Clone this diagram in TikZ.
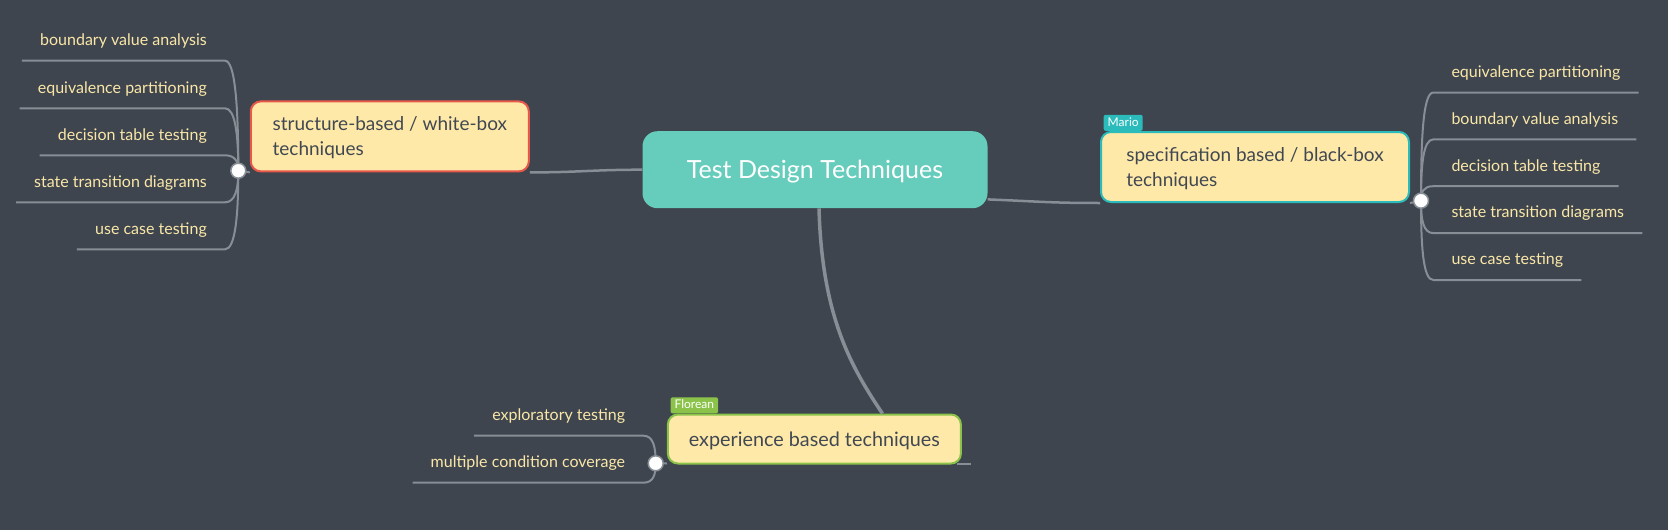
\documentclass[tikz,border=0pt]{standalone}
\usepackage{fontspec}
\setmainfont{Lato}
\definecolor{bgslate}{RGB}{62,69,78}
\definecolor{linegray}{RGB}{135,142,150}
\definecolor{leafyellow}{RGB}{250,231,168}
\definecolor{nodeyellow}{RGB}{255,233,168}
\definecolor{textslate}{RGB}{64,72,82}
\definecolor{rootteal}{RGB}{102,204,187}
\definecolor{whitered}{RGB}{232,88,74}
\definecolor{specteal}{RGB}{44,187,187}
\definecolor{expgreen}{RGB}{139,195,74}

\begin{document}
\begin{tikzpicture}[x=1pt, y=-1pt,
  branch/.style={draw=linegray, line width=2pt},
  leaf/.style={text=leafyellow, font=\fontsize{16}{19}\selectfont, inner xsep=18pt, inner ysep=11pt, text height=11pt, text depth=4pt},
  topic/.style={fill=nodeyellow, text=textslate, rounded corners=10pt, line width=2pt, align=left, text depth=0pt, font=\fontsize{19}{25}\selectfont},
  tag/.style={text=white, font=\fontsize{12}{14}\selectfont, rounded corners=2pt, inner xsep=4pt, inner ysep=2.5pt, text height=9pt, text depth=2pt, anchor=south west},
  hub/.style={circle, fill=white, draw=linegray, line width=1.5pt, minimum size=15pt, inner sep=0pt}]
  % background and picture size
  \fill[bgslate] (0,0) rectangle (1668,530);
  \useasboundingbox (0,0) rectangle (1668,530);

  % hubs where the leaves meet
  \coordinate (hubL) at (238.3,170.7);
  \coordinate (hubR) at (1421,200.7);
  \coordinate (hubB) at (655.7,463.3);

  % central topic
  \node[fill=rootteal, text=white, rounded corners=15pt, minimum width=345pt, minimum height=77pt, text depth=0pt,
    font=\fontsize{25}{30}\selectfont] (root) at (815,169.7) {Test Design Techniques};

  % main topics
  \node[topic, draw=whitered, minimum width=278pt, minimum height=70pt] (white) at (389.8,136.4)
    {structure-based / white-box\\techniques};
  \node[topic, draw=specteal, minimum width=308pt, minimum height=70pt] (spec) at (1255,167)
    {specification based / black-box\\techniques};
  \node[topic, draw=expgreen, minimum width=293pt, minimum height=49pt, font=\fontsize{19.8}{25}\selectfont] (exp) at (814.4,439)
    {experience based techniques};

  % labels on top of the topics
  \node[tag, fill=specteal] (mario) at ([xshift=3.5pt]spec.north west) {Mario};
  \node[tag, fill=expgreen] (florean) at ([xshift=3.5pt]exp.north west) {Florean};

  % connectors from the central topic
  \draw[branch, line width=2.5pt] (root.west) .. controls +(-50,0) and +(50,0) .. (white.south east);
  \draw[branch, line width=2.5pt] ([yshift=9pt]root.south east) .. controls +(50,2) and +(-50,0) .. (spec.south west);
  \draw[branch, line width=3.5pt] ([xshift=4pt]root.south) .. controls +(3,110) and +(-30,-45) .. ([xshift=68pt]exp.north);

  % underlines of the topics
  \draw[branch] (hubL) -- (white.south west);
  \draw[branch] (hubR) -- (spec.south east);
  \draw[branch] (hubB) -- ([yshift=1pt]exp.south west);
  \coordinate (expstub) at ([xshift=9pt, yshift=1pt]exp.south east);
  \draw[branch] ([xshift=-5pt, yshift=1pt]exp.south east) -- (expstub);

  % leaves of the white-box topic
  \foreach \y/\txt [count=\i] in {60.7/boundary value analysis, 108.3/equivalence partitioning,
      155.3/decision table testing, 202.3/state transition diagrams, 249.3/use case testing}
  {
    \node[leaf, anchor=south east] (wl\i) at (225,\y) {\txt};
    \pgfmathsetmacro\cy{0.6*(\y-170.7)}
    \draw[branch] (hubL) .. controls +(0,\cy) and +(10,0) .. (wl\i.south east) -- (wl\i.south west);
  }

  % leaves of the black-box topic
  \foreach \y/\txt [count=\i] in {92.5/equivalence partitioning, 139.4/boundary value analysis,
      186.2/decision table testing, 233.1/state transition diagrams, 280/use case testing}
  {
    \node[leaf, anchor=south west] (bl\i) at (1433.3,\y) {\txt};
    \pgfmathsetmacro\cy{0.6*(\y-200.7)}
    \draw[branch] (hubR) .. controls +(0,\cy) and +(-10,0) .. (bl\i.south west) -- (bl\i.south east);
  }

  % leaves of the experience topic
  \foreach \y/\txt [count=\i] in {435.7/exploratory testing, 482.7/multiple condition coverage}
  {
    \node[leaf, anchor=south east] (el\i) at (643.3,\y) {\txt};
    \pgfmathsetmacro\cy{0.6*(\y-463.3)}
    \draw[branch] (hubB) .. controls +(0,\cy) and +(10,0) .. (el\i.south east) -- (el\i.south west);
  }

  % hub circles
  \node[hub] (hubLdot) at (hubL) {};
  \node[hub] (hubRdot) at (hubR) {};
  \node[hub] (hubBdot) at (hubB) {};
\end{tikzpicture}
\end{document}
